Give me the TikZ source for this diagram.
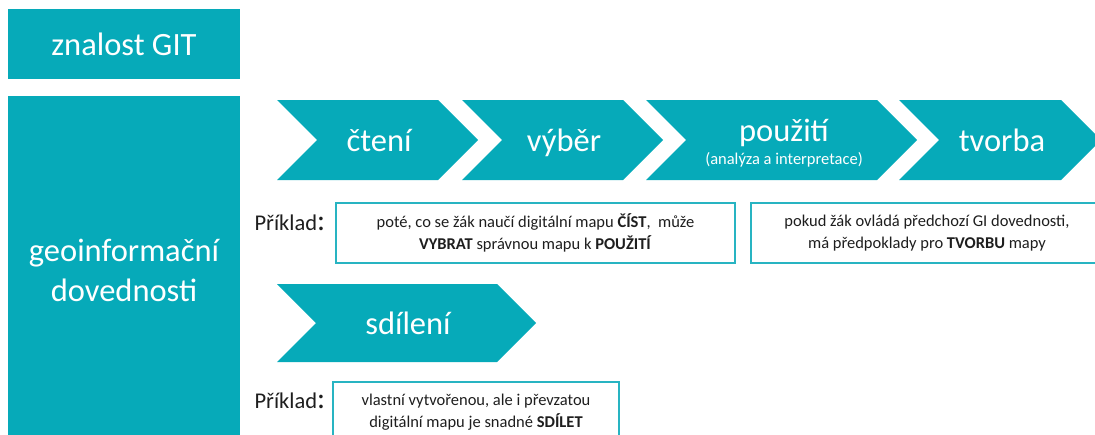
\documentclass[tikz,border=0pt]{standalone}
\usepackage{fontspec}
\setmainfont{Carlito}
\begin{document}
\begin{tikzpicture}[x=1pt,y=-1pt]
  % Define colors
  \definecolor{gitteal}{RGB}{6,170,185}
  \definecolor{boxline}{RGB}{40,180,194}
  \definecolor{textcolor}{RGB}{30,30,30}
  \tikzset{
    bigtext/.style={text=white,font=\fontsize{32.5}{40}\selectfont,align=center},
    steptext/.style={bigtext,anchor=base},
    example/.style={draw=boxline,line width=1.6pt,fill=white,align=center,text=textcolor,
      font=\fontsize{16.5}{21.5}\selectfont,inner sep=0pt},
    exlabel/.style={text=textcolor,font=\fontsize{22.5}{24}\selectfont,anchor=base west}
  }
  \useasboundingbox (0,0) rectangle (1095,434);

  % Left column
  \node[fill=gitteal,minimum width=232pt,minimum height=70pt,bigtext] (git) at (124,44) {znalost GIT};
  \node[fill=gitteal,minimum width=232pt,minimum height=348pt,bigtext] (geo) at (124,270) {geoinformační\\dovednosti};

  % Chevrons (left, right corner, top, bottom)
  \foreach \l/\r/\t/\b in {277/438/100/180, 462/623/100/180, 646/877/100/180,
                           899/1061/100/180, 277/497/284/362} {
    \fill[gitteal] (\l,\t) -- (\r,\t) -- ({\r+(\b-\t)/2},{(\t+\b)/2}) -- (\r,\b)
      -- (\l,\b) -- ({\l+(\b-\t)/2},{(\t+\b)/2}) -- cycle;
  }
  \node[steptext] (cteni) at (379,151) {čtení};
  \node[steptext] (vyber) at (564,151) {výběr};
  \node[steptext] (pouziti) at (784,141) {použití};
  \node[text=white,font=\fontsize{16.5}{18}\selectfont,anchor=base] (pouzitinote) at (784,164) {(analýza a interpretace)};
  \node[steptext] (tvorba) at (1002,151) {tvorba};
  \node[steptext] (sdileni) at (408,334) {sdílení};

  % Examples
  \node[exlabel] (priklad1) at (251,230) {Příklad{\fontsize{30}{30}\selectfont:}};
  \node[example,minimum width=399pt,minimum height=60pt] (ex1) at (535.5,233)
    {poté, co se žák naučí digitální mapu \textbf{ČÍST},\ \ může\\\textbf{VYBRAT} správnou mapu k \textbf{POUŽITÍ}};
  \node[example,minimum width=352pt,minimum height=60pt] (ex2) at (927,233)
    {pokud žák ovládá předchozí GI dovednosti,\\má předpoklady pro \textbf{TVORBU} mapy};
  \node[exlabel] (priklad2) at (251,408) {Příklad{\fontsize{30}{30}\selectfont:}};
  \node[example,minimum width=286pt,minimum height=60pt] (ex3) at (476,412)
    {vlastní vytvořenou, ale i převzatou\\digitální mapu je snadné \textbf{SDÍLET}};
\end{tikzpicture}
\end{document}
